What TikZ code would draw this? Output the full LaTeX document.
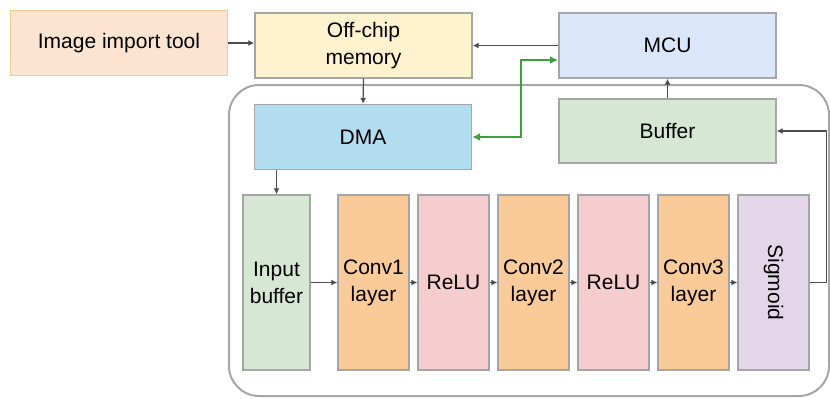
\documentclass[tikz,border=0pt]{standalone}
\usepackage{fontspec}
\setmainfont{Liberation Sans}
\usepackage{tikz}
\usetikzlibrary{arrows.meta}
\usepackage{xcolor}
\definecolor{importfill}{RGB}{252,228,208}
\definecolor{importline}{RGB}{240,205,150}
\definecolor{memfill}{RGB}{255,242,206}
\definecolor{mcufill}{RGB}{218,231,250}
\definecolor{dmafill}{RGB}{178,221,240}
\definecolor{buffill}{RGB}{214,232,212}
\definecolor{convfill}{RGB}{250,202,152}
\definecolor{relufill}{RGB}{246,205,207}
\definecolor{sigfill}{RGB}{226,214,232}
\definecolor{linkgreen}{RGB}{60,160,60}

\begin{document}
\begin{tikzpicture}[x=0.5pt, y=-0.5pt,
    box/.style={draw=gray!70, line width=0.7pt, align=center, inner sep=0pt,
        font=\fontsize{10.5}{13.5}\selectfont},
    widebox/.style={box, minimum width=108.5pt, minimum height=32.5pt},
    layerbox/.style={box, minimum width=35.5pt, minimum height=87.5pt},
    arr/.style={-{Latex[length=3pt,width=3pt]}, draw=black!70, line width=0.6pt}]
    \useasboundingbox (0,0) rectangle (830,398);

    % accelerator frame
    \draw[gray!70, line width=1pt, rounded corners=15pt] (229,85) rectangle (829,396);

    % top row
    \node[widebox, fill=importfill, draw=importline] (import) at (119,43) {Image import tool};
    \node[widebox, fill=memfill] (mem) at (363.5,45.5) {Off-chip\\memory};
    \node[widebox, fill=mcufill] (mcu) at (667.5,45.5) {MCU};

    % second row
    \node[widebox, fill=dmafill] (dma) at (363,137) {DMA};
    \node[widebox, fill=buffill, minimum height=32pt] (buffer) at (667.5,131) {Buffer};

    % layers
    \node[layerbox, fill=buffill, minimum width=33.5pt] (inbuf) at (276.5,282.5) {Input\\buffer};
    \node[layerbox, fill=convfill] (conv1) at (373.5,282.5) {Conv1\\layer};
    \node[layerbox, fill=relufill] (relu1) at (453.5,282.5) {ReLU};
    \node[layerbox, fill=convfill] (conv2) at (533.5,282.5) {Conv2\\layer};
    \node[layerbox, fill=relufill] (relu2) at (613.5,282.5) {ReLU};
    \node[layerbox, fill=convfill] (conv3) at (693.5,282.5) {Conv3\\layer};
    \node[layerbox, fill=sigfill] (sigmoid) at (773.5,282.5) {\rotatebox{-90}{Sigmoid}};

    \coordinate (mcuin) at (558,60);

    % connections
    \draw[arr] (import.east) -- (mem.west |- import.east);
    \draw[arr] (mcu.west) -- (mem.east);
    \draw[arr] (mem.south) -- (dma.north);
    \draw[arr] (buffer.north) -- (mcu.south);
    \draw[arr] (dma.south -| inbuf.north) -- (inbuf.north);
    \draw[{Latex[length=4pt,width=4pt]}-{Latex[length=4pt,width=4pt]}, linkgreen, line width=1.1pt]
        (dma.east) -- ++(49,0) |- (mcuin);
    \draw[arr] (inbuf) -- (conv1);
    \draw[arr] (conv1) -- (relu1);
    \draw[arr] (relu1) -- (conv2);
    \draw[arr] (conv2) -- (relu2);
    \draw[arr] (relu2) -- (conv3);
    \draw[arr] (conv3) -- (sigmoid);
    \draw[arr] (sigmoid.east) -- ++(17,0) |- (buffer.east);
\end{tikzpicture}
\end{document}
